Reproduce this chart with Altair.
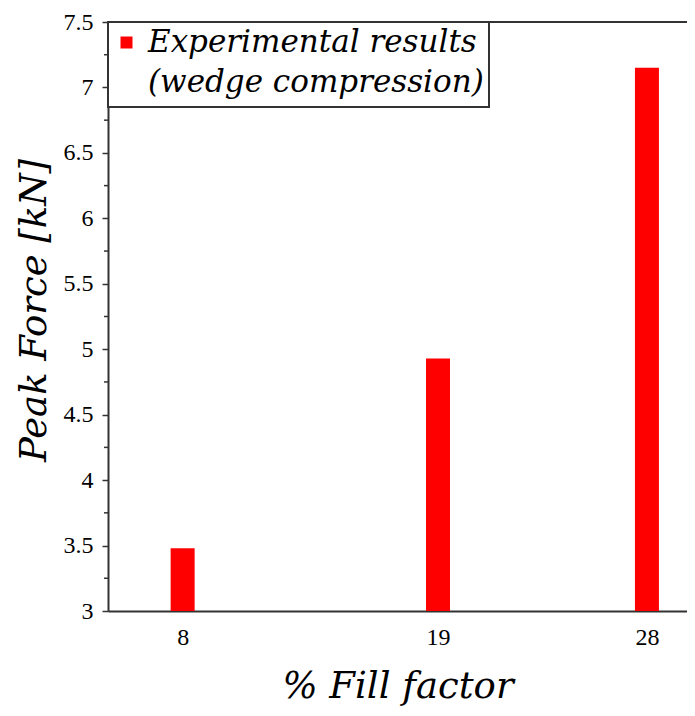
import altair as alt
import pandas as pd

fill_factor = [8, 19, 28]
peak_force = [3.48, 4.93, 7.15]
series_name = "Experimental results"
legend_lines = ["Experimental results", "(wedge compression)"]
y_ticks = [3, 3.5, 4, 4.5, 5, 5.5, 6, 6.5, 7, 7.5]
y_minor = [3.25, 3.75, 4.25, 4.75, 5.25, 5.75, 6.25, 6.75, 7.25]
x_ticks = [8, 19, 28]

W, H = 579, 589
AX = "#333333"

df = pd.DataFrame({"fill": fill_factor, "force": peak_force, "series": [series_name] * 3})
minor_df = pd.DataFrame({"v": y_minor})

yscale = alt.Scale(domain=[3, 7.5], zero=False, nice=False)
xscale = alt.Scale(domain=[5, 29.51], zero=False, nice=False)

bars = alt.Chart(df).mark_bar(size=24).encode(
    x=alt.X("fill:Q", scale=xscale,
            axis=alt.Axis(values=x_ticks, format="d", ticks=False, grid=False,
                          labelPadding=14, title="% Fill factor",
                          titleY=86, titleBaseline="alphabetic")),
    y=alt.Y("force:Q", scale=yscale,
            axis=alt.Axis(values=y_ticks, format="~g", grid=False, tickSize=6,
                          tickWidth=1.5, tickColor=AX, labelPadding=9,
                          title="Peak Force [kN]", titleX=-63, titleY=288,
                          titleBaseline="alphabetic")),
    y2=alt.datum(3),
    color=alt.Color("series:N",
                    scale=alt.Scale(domain=[series_name], range=["#ff0000"]),
                    legend=alt.Legend(
                        title=" ", titleOrient="bottom", titleFontSize=4,
                        titlePadding=0,
                        orient="none", legendX=0, legendY=0,
                        labelExpr=str(legend_lines),
                        symbolType="square", symbolSize=144,
                        symbolStrokeWidth=0, symbolOffset=-2,
                        labelOffset=6, labelLimit=0,
                        labelFont="DejaVu Serif", labelFontStyle="italic",
                        labelFontSize=31, labelColor="black",
                        labelBaseline="middle",
                        padding=5, strokeColor=AX, fillColor="white")),
)

minor = alt.Chart(minor_df).mark_rule(color=AX, strokeWidth=1.5).encode(
    y=alt.Y("v:Q", scale=yscale),
    x=alt.value(-4), x2=alt.value(0),
)

top = alt.Chart(pd.DataFrame({"v": [7.5]})).mark_rule(color=AX, strokeWidth=2).encode(
    y=alt.Y("v:Q", scale=yscale),
    x=alt.value(0), x2=alt.value(W),
)

chart = alt.layer(bars, minor, top).properties(
    width=W, height=H,
    autosize=alt.AutoSizeParams(type="none"),
    padding={"left": 100, "top": 14, "right": 0, "bottom": 95},
).configure(
    style={"guide-label": {"lineHeight": 40}}
).configure_view(stroke=None).configure_axis(
    domainColor=AX, domainWidth=2,
    labelFont="Liberation Serif", labelFontSize=24, labelColor="black",
    titleFont="DejaVu Serif", titleFontStyle="italic", titleFontWeight="normal",
    titleFontSize=37, titleColor="black",
).configure_legend(strokeWidth=2)

chart.save("out.html", embed_options={"renderer": "svg", "actions": False})
